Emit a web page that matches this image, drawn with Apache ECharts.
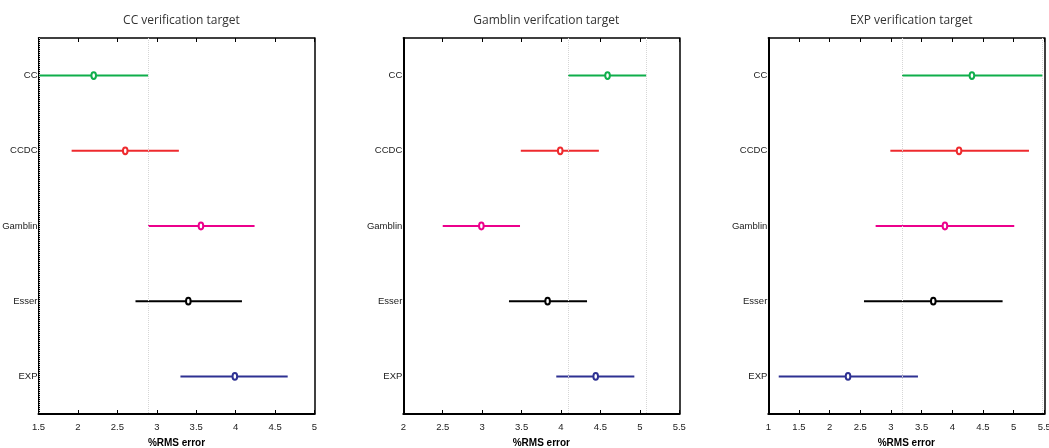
<!DOCTYPE html>
<html>
<head>
<meta charset="utf-8">
<script src="https://cdn.jsdelivr.net/npm/echarts@6/dist/echarts.min.js"></script>
<style>
  html, body { margin: 0; padding: 0; background: #fff; }
  #chart { width: 1049px; height: 448px; }
</style>
</head>
<body>
<div id="chart"></div>
<script>
// groups, top to bottom
const groups = ['CC', 'CCDC', 'Gamblin', 'Esser', 'EXP']
const colors = ['#0fae4b', '#ee2a2e', '#ec008c', '#000000', '#2e3192']

// CC verification target
const ccMean = [2.20, 2.60, 3.56, 3.40, 3.99]
const ccLower = [1.51, 1.92, 2.89, 2.73, 3.30]
const ccUpper = [2.89, 3.28, 4.24, 4.08, 4.66]

// Gamblin verifcation target
const gamMean = [4.59, 3.99, 2.99, 3.83, 4.44]
const gamLower = [4.09, 3.49, 2.50, 3.34, 3.94]
const gamUpper = [5.08, 4.48, 3.48, 4.33, 4.93]

// EXP verification target
const expMean = [4.32, 4.11, 3.88, 3.69, 2.30]
const expLower = [3.18, 2.99, 2.75, 2.56, 1.17]
const expUpper = [5.47, 5.25, 5.01, 4.82, 3.44]

const titles = ['CC verification target', 'Gamblin verifcation target', 'EXP verification target']
const xRanges = [[1.5, 5], [2, 5.5], [1, 5.5]]
const panels = [
  { mean: ccMean, lower: ccLower, upper: ccUpper },
  { mean: gamMean, lower: gamLower, upper: gamUpper },
  { mean: expMean, lower: expLower, upper: expUpper }
]
const gridLefts = [38.5, 403.3, 768.3]
const gridWidth = 276

const labelFont = '"Liberation Sans Narrow", "Liberation Sans", Arial, sans-serif'

const chart = echarts.init(document.getElementById('chart'))

const option = {
  animation: false,
  title: [],
  grid: [],
  xAxis: [],
  yAxis: [],
  series: []
}

panels.forEach((p, i) => {
  option.title.push({
    text: titles[i],
    left: gridLefts[i] + gridWidth / 2,
    top: 10,
    textAlign: 'center',
    textStyle: { fontFamily: '"Open Sans", sans-serif', fontSize: 12, fontWeight: 'normal', color: '#333' }
  })
  option.grid.push({
    left: gridLefts[i],
    width: gridWidth,
    top: 38,
    height: 376,
    containLabel: false,
    outerBoundsMode: 'none'
  })

  // bottom x axis
  option.xAxis.push({
    type: 'value',
    gridIndex: i,
    min: xRanges[i][0],
    max: xRanges[i][1],
    interval: 0.5,
    name: '%RMS error',
    nameLocation: 'middle',
    nameGap: 24,
    nameTextStyle: { fontFamily: labelFont, fontSize: 10, fontWeight: 'bold', color: '#000' },
    axisLine: { show: true, onZero: false, lineStyle: { color: '#000', width: 2 } },
    axisTick: { show: true, inside: true, length: 4, lineStyle: { color: '#000' } },
    axisLabel: { fontFamily: labelFont, fontSize: 9.5, color: '#222', margin: 8 },
    splitLine: { show: false }
  })
  // top x axis (box)
  option.xAxis.push({
    type: 'value',
    gridIndex: i,
    position: 'top',
    min: xRanges[i][0],
    max: xRanges[i][1],
    interval: 0.5,
    axisLine: { show: true, onZero: false, lineStyle: { color: '#000', width: 1.5 } },
    axisTick: { show: true, inside: true, length: 4, lineStyle: { color: '#000' } },
    axisLabel: { show: false },
    splitLine: { show: false }
  })
  // left y axis
  option.yAxis.push({
    type: 'category',
    gridIndex: i,
    data: groups,
    inverse: true,
    axisLine: { lineStyle: { color: '#000', width: 2 } },
    axisTick: { inside: false, alignWithLabel: true, length: 3, lineStyle: { color: '#000' } },
    axisLabel: { fontFamily: labelFont, fontSize: 9.5, color: '#222', margin: 1 },
    splitLine: { show: false }
  })
  // right y axis (box)
  option.yAxis.push({
    type: 'category',
    gridIndex: i,
    position: 'right',
    data: groups,
    inverse: true,
    axisLine: { lineStyle: { color: '#000', width: 1.5 } },
    axisTick: { inside: true, alignWithLabel: true, length: 4, lineStyle: { color: '#000' } },
    axisLabel: { show: false },
    splitLine: { show: false }
  })

  const rows = groups.map((g, k) => [p.lower[k], p.upper[k], p.mean[k], k])

  option.series.push({
    type: 'custom',
    xAxisIndex: i * 2,
    yAxisIndex: i * 2,
    clip: true,
    data: rows,
    renderItem: (params, api) => {
      const k = api.value(3)
      const a = api.coord([api.value(0), k])
      const b = api.coord([api.value(1), k])
      const c = api.coord([api.value(2), k])
      return {
        type: 'group',
        children: [
          {
            type: 'line',
            shape: { x1: a[0], y1: a[1], x2: b[0], y2: b[1] },
            style: { stroke: colors[k], lineWidth: 2 }
          },
          {
            type: 'ellipse',
            shape: { cx: c[0], cy: c[1], rx: 2.3, ry: 3.4 },
            style: { stroke: colors[k], fill: '#fff', lineWidth: 2 }
          }
        ]
      }
    },
    markLine: {
      silent: true,
      symbol: 'none',
      label: { show: false },
      lineStyle: { type: 'dotted', color: '#d6d6d6', width: 1 },
      data: [{ xAxis: p.lower[0] }, { xAxis: p.upper[0] }]
    },
    z: 3
  })
})

chart.setOption(option)
</script>
</body>
</html>
